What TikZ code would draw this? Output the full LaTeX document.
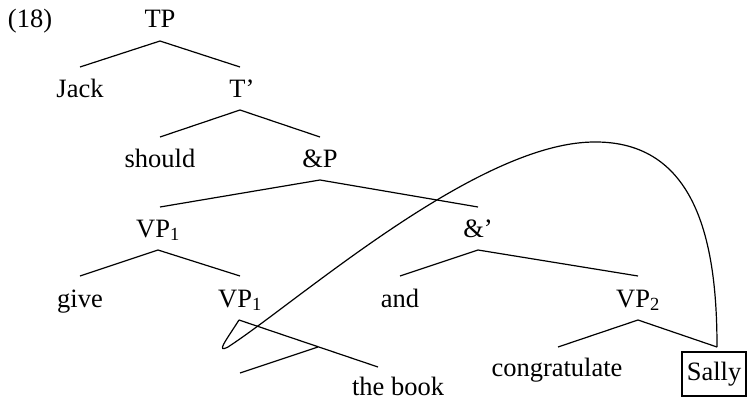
\documentclass[tikz,border=0pt]{standalone}
\usepackage{fontspec}
\setmainfont{Liberation Serif}
\begin{document}
\begin{tikzpicture}[x=1pt,y=-1pt,
  lbl/.style={anchor=base,inner sep=0pt,font=\fontsize{26.5}{31}\selectfont},
  br/.style={line width=1.2pt},
  boxed/.style={lbl,draw,line width=2pt,inner xsep=4.5pt,inner ysep=10pt,anchor=base}]
\useasboundingbox (0,0) rectangle (747,407);
% labels
\node[lbl] (ex) at (30,27) {(18)};
\node[lbl] (tp) at (160,27) {TP};
\node[lbl] (jack) at (80,97) {Jack};
\node[lbl] (tbar) at (242,97) {T’};
\node[lbl] (should) at (160,167) {should};
\node[lbl] (andp) at (320,167) {\&P};
\node[lbl] (vpa) at (158,237) {VP\textsubscript{1}};
\node[lbl] (andbar) at (478,237) {\&’};
\node[lbl] (give) at (80,307) {give};
\node[lbl] (vpb) at (240,307) {VP\textsubscript{1}};
\node[lbl] (and) at (400,307) {and};
\node[lbl] (vpc) at (638,307) {VP\textsubscript{2}};
\node[lbl] (congr) at (557,376) {congratulate};
\node[boxed] (sally) at (714,380) {Sally};
\node[lbl] (book) at (398,395) {the book};
% branch points
\coordinate (tpA) at (160,41);
\coordinate (jackT) at (80,67);
\coordinate (tbarT) at (240,67);
\coordinate (tbarA) at (240,110);
\coordinate (shouldT) at (160,137);
\coordinate (andpT) at (320,137);
\coordinate (andpA) at (320,180);
\coordinate (vpaT) at (160,207);
\coordinate (andbarT) at (478,207);
\coordinate (vpaA) at (158,250);
\coordinate (giveT) at (80,276);
\coordinate (vpbT) at (240,276);
\coordinate (andbarA) at (478,250);
\coordinate (andT) at (400,276);
\coordinate (vpcT) at (638,276);
\coordinate (vpbA) at (239,320);
\coordinate (bookT) at (378,367);
\coordinate (gapL) at (240,373);
\coordinate (gapR) at (318,347);
\coordinate (vpcA) at (638,320);
\coordinate (congrT) at (558,347);
\coordinate (sallyT) at (717,347);
% branches
\draw[br] (jackT) -- (tpA) -- (tbarT);
\draw[br] (shouldT) -- (tbarA) -- (andpT);
\draw[br] (vpaT) -- (andpA) -- (andbarT);
\draw[br] (giveT) -- (vpaA) -- (vpbT);
\draw[br] (andT) -- (andbarA) -- (vpcT);
\draw[br] (vpbA) -- (bookT);
\draw[br] (gapL) -- (gapR);
\draw[br] (congrT) -- (vpcA) -- (sallyT);
% movement curve
\draw[br] (vpbA) .. controls (225,342) and (216,353) .. (228,347)
  .. controls (300,300) and (480,140) .. (597,142)
  .. controls (700,143) and (717,250) .. (sallyT);
\end{tikzpicture}
\end{document}
